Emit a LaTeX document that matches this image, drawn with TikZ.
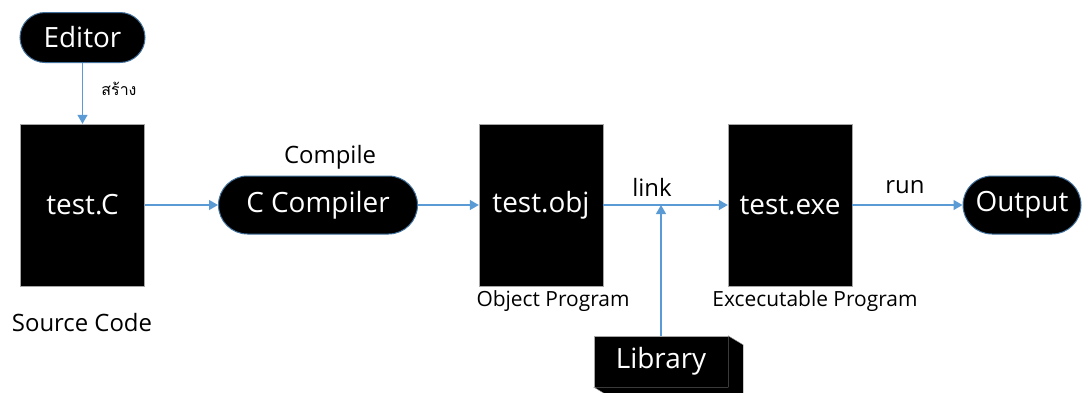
\documentclass[tikz,border=0pt]{standalone}
\usepackage{fontspec}
\setmainfont{Open Sans}
\newfontfamily\thaifont[Script=Thai]{Loma}
\usetikzlibrary{arrows.meta}
\definecolor{flowblue}{HTML}{5B9BD5}
\definecolor{pillline}{HTML}{41719C}
\definecolor{boxline}{HTML}{A6A6A6}

\begin{document}
\begin{tikzpicture}[x=1bp, y=-1bp] %Compile
			\tikzstyle{filebox} = [rectangle, draw=boxline, fill=black, text=white, minimum width=124bp, minimum height=162bp, inner sep=0pt, font=\fontsize{28}{32}\selectfont]
			\tikzstyle{pill} = [rectangle, draw=pillline, line width=1bp, fill=black, text=white, minimum height=58bp, rounded corners=29bp, inner sep=0pt, font=\fontsize{28}{32}\selectfont]
			\tikzstyle{flow} = [draw=flowblue, line width=1.3bp, -{Triangle[width=10bp,length=9bp]}]
			\tikzstyle{caption} = [inner sep=0pt, font=\fontsize{24}{28}\selectfont]
			\tikzstyle{smallcaption} = [inner sep=0pt, font=\fontsize{21}{24}\selectfont]
			\useasboundingbox (0,0) rectangle (1082,392);
			\node[pill, minimum width=125bp, minimum height=50bp, rounded corners=25bp] (editor) at (82.5,37.5) {Editor};
			\node[filebox] (src) at (82.5,205) {test.C};
			\node[pill, minimum width=199bp] (cc) at (318,205) {C Compiler};
			\node[filebox] (obj) at (541,205) {test.obj};
			\node[filebox] (exe) at (790,205) {test.exe};
			\node[pill, minimum width=118bp] (out) at (1022,205) {Output};
			\node[rectangle, draw=boxline, fill=black, text=white, minimum width=134bp, minimum height=51bp, inner sep=0pt, font=\fontsize{28}{32}\selectfont] (lib) at (661,361.5) {Library};
			\filldraw[fill=black, draw=boxline] (lib.north east) -- ([shift={(15,9)}]lib.north east) -- ([shift={(15,9)}]lib.south east) -- ([shift={(15,9)}]lib.south west) -- (lib.south west) -- (lib.south east) -- cycle;
			% labels
			\node[caption] (srcname) at (82,323) {Source Code};
			\node[smallcaption] (objname) at (553,301) {Object Program};
			\node[smallcaption] (exename) at (815,301) {Excecutable Program};
			\node[caption] (compile) at (330,157) {Compile};
			\node[caption] (linkname) at (652,187) {link};
			\node[caption] (runname) at (905,187) {run};
			\node[font=\thaifont\fontsize{16}{18}\selectfont, inner sep=0pt] (create) at (119,89) {สร้าง};
			% arrows
			\coordinate (join) at (lib |- obj);
			\draw[flow] (editor) -- (src);
			\draw[flow] (src) -- (cc);
			\draw[flow] (cc) -- (obj);
			\draw[flow] (obj) -- (exe);
			\draw[flow] (exe) -- (out);
			\draw[flow] (lib) -- (join);
		\end{tikzpicture}
\end{document}
